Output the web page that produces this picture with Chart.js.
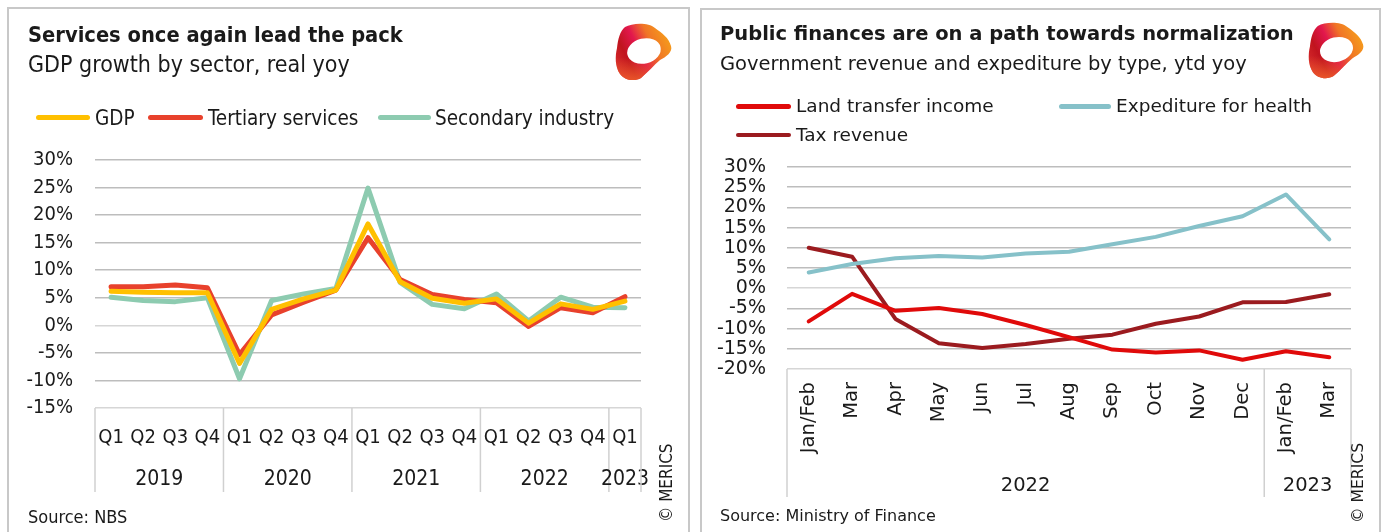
<!DOCTYPE html>
<html>
<head>
<meta charset="utf-8">
<script src="https://cdn.jsdelivr.net/npm/chart.js@4.4.0/dist/chart.umd.min.js"></script>
<style>
  html, body { margin: 0; padding: 0; background: #fff; }
  body { width: 1384px; height: 532px; position: relative; overflow: hidden; color: #1a1a1a; }
  .panel { position: absolute; border: 2px solid #c8c8c8; box-sizing: border-box; }
  .t { position: absolute; white-space: nowrap; line-height: 1; }
  .sw { position: absolute; border-radius: 3px; }
  canvas { position: absolute; top: 0; }
  .logo { position: absolute; }
</style>
</head>
<body>
<div class="panel" style="left:7px;top:7px;width:683px;height:540px"></div>
<div class="panel" style="left:700px;top:8px;width:681px;height:540px"></div>
<canvas id="left" width="692" height="532" style="left:0;width:692px;height:532px"></canvas>
<canvas id="right" width="692" height="532" style="left:692px;width:692px;height:532px"></canvas>
<div id="deco"></div>
<script>
// ---- data: left panel (GDP growth by sector, real yoy, %)
const quarters = ['Q1','Q2','Q3','Q4','Q1','Q2','Q3','Q4','Q1','Q2','Q3','Q4','Q1','Q2','Q3','Q4','Q1'];
const quarterYears = ['2019','2020','2021','2022','2023'];
const quarterYearSpans = [4,4,4,4,1];
const gdp       = [6.2, 6.0, 5.9, 5.9, -6.9, 2.9, 4.8, 6.4, 18.4, 7.9, 4.9, 4.0, 4.8, 0.4, 3.9, 2.9, 4.4];
const tertiary  = [7.0, 7.0, 7.3, 6.8, -5.3, 1.9, 4.2, 6.4, 15.9, 8.3, 5.6, 4.7, 4.1, -0.2, 3.2, 2.3, 5.2];
const secondary = [5.1, 4.5, 4.3, 5.0, -9.7, 4.5, 5.7, 6.7, 24.9, 7.8, 3.8, 3.0, 5.7, 0.8, 5.1, 3.3, 3.2];

// ---- data: right panel (government revenue and expenditure, ytd yoy, %)
const months = ['Jan/Feb','Mar','Apr','May','Jun','Jul','Aug','Sep','Oct','Nov','Dec','Jan/Feb','Mar'];
const monthYears = ['2022','2023'];
const monthYearSpans = [11,2];
const landTransfer = [-8.2, -1.4, -5.6, -4.9, -6.4, -9.1, -12.1, -15.2, -15.9, -15.4, -17.7, -15.6, -17.1];
const health       = [3.9, 6.0, 7.4, 8.0, 7.6, 8.6, 9.0, 10.9, 12.7, 15.4, 17.8, 23.2, 12.1];
const taxRevenue   = [10.0, 7.8, -7.6, -13.6, -14.8, -13.8, -12.5, -11.5, -8.8, -7.0, -3.5, -3.4, -1.5];

const COND = '"DejaVu Sans Condensed", "DejaVu Sans", sans-serif';
const REG = '"DejaVu Sans", sans-serif';
const INK = '#1a1a1a';

// second row of the category axis: year groups with separators
const groupAxis = {
  id: 'groupAxis',
  afterDraw(chart, args, o) {
    const { ctx, chartArea } = chart;
    const x = chart.scales.x;
    ctx.save();
    ctx.strokeStyle = '#d0d0d0';
    ctx.lineWidth = 1.5;
    ctx.font = o.font;
    ctx.fillStyle = INK;
    ctx.textAlign = 'center';
    ctx.textBaseline = 'middle';
    let start = 0;
    const edge = i => x.getPixelForValue(i - 0.5);
    const line = px => {
      ctx.beginPath();
      ctx.moveTo(px, chartArea.bottom);
      ctx.lineTo(px, o.lineEnd);
      ctx.stroke();
    };
    line(edge(0));
    o.groups.forEach((g, k) => {
      const span = o.spans[k];
      const cx = x.getPixelForValue(start + span / 2 - 0.5);
      ctx.fillText(g, cx, o.labelY);
      start += span;
      line(edge(start));
    });
    ctx.restore();
  }
};

function gridColor(min) {
  return c => (c.tick && (c.tick.value === 0 || c.tick.value === min)) ? '#d6d6d6' : '#bdbdbd';
}

const common = {
  responsive: false,
  animation: false,
  elements: {
    line: { tension: 0, borderCapStyle: 'round', borderJoinStyle: 'round', fill: false },
    point: { radius: 0, hoverRadius: 0 }
  }
};

new Chart(document.getElementById('left'), {
  type: 'line',
  data: {
    labels: quarters,
    datasets: [
      { label: 'GDP', data: gdp, borderColor: '#FFC000', borderWidth: 5 },
      { label: 'Tertiary services', data: tertiary, borderColor: '#E8412C', borderWidth: 5 },
      { label: 'Secondary industry', data: secondary, borderColor: '#8DCBB0', borderWidth: 5 }
    ]
  },
  options: Object.assign({}, common, {
    layout: { padding: { left: 5, right: 51, top: 160, bottom: 0 } },
    plugins: {
      legend: { display: false },
      tooltip: { enabled: false },
      groupAxis: { groups: quarterYears, spans: quarterYearSpans, font: '21px ' + COND, labelY: 480, lineEnd: 492 }
    },
    scales: {
      x: {
        offset: true,
        grid: { display: false, drawTicks: false },
        border: { display: false },
        ticks: { font: { family: COND, size: 20, lineHeight: 1.2 }, color: INK, padding: 18, maxRotation: 0, autoSkip: false },
        afterFit(s) { s.height = 124; }
      },
      y: {
        min: -15, max: 30,
        grid: { color: gridColor(-15), lineWidth: 1.5, drawTicks: false },
        border: { display: false },
        ticks: { stepSize: 5, autoSkip: false, padding: 22, color: INK,
                 font: { family: COND, size: 20, lineHeight: 1 }, callback: v => v + '%' },
        afterFit(s) { s.width = 90; }
      }
    }
  }),
  plugins: [groupAxis]
});

new Chart(document.getElementById('right'), {
  type: 'line',
  data: {
    labels: months,
    datasets: [
      { label: 'Land transfer income', data: landTransfer, borderColor: '#E00A0A', borderWidth: 4 },
      { label: 'Expediture for health', data: health, borderColor: '#86C1C9', borderWidth: 4 },
      { label: 'Tax revenue', data: taxRevenue, borderColor: '#9B1B1F', borderWidth: 4 }
    ]
  },
  options: Object.assign({}, common, {
    layout: { padding: { left: 5, right: 33, top: 167, bottom: 0 } },
    plugins: {
      legend: { display: false },
      tooltip: { enabled: false },
      groupAxis: { groups: monthYears, spans: monthYearSpans, font: '19.5px ' + REG, labelY: 486, lineEnd: 497 }
    },
    scales: {
      x: {
        offset: true,
        grid: { display: false, drawTicks: false },
        border: { display: false },
        ticks: { font: { family: REG, size: 19.5, lineHeight: 1.2 }, color: INK, padding: 13,
                 minRotation: 90, maxRotation: 90, autoSkip: false },
        afterFit(s) { s.height = 163; }
      },
      y: {
        min: -20, max: 30,
        grid: { color: gridColor(-20), lineWidth: 1.5, drawTicks: false },
        border: { display: false },
        ticks: { stepSize: 5, autoSkip: false, padding: 21, color: INK,
                 font: { family: REG, size: 19, lineHeight: 1 }, callback: v => v + '%' },
        afterFit(s) { s.width = 90; }
      }
    }
  }),
  plugins: [groupAxis]
});

// ---- titles, legends, notes (HTML text placed by baseline)
const deco = document.getElementById('deco');
function text(str, x, base, size, fam, bold) {
  const d = document.createElement('div');
  d.className = 't';
  d.textContent = str;
  d.style.left = x + 'px';
  d.style.top = (base - 0.846 * size) + 'px';
  d.style.fontSize = size + 'px';
  d.style.fontFamily = fam;
  if (bold) d.style.fontWeight = 'bold';
  deco.appendChild(d);
}
function swatch(x1, x2, y, h, color) {
  const d = document.createElement('div');
  d.className = 'sw';
  d.style.left = x1 + 'px';
  d.style.width = (x2 - x1) + 'px';
  d.style.top = (y - h / 2) + 'px';
  d.style.height = h + 'px';
  d.style.background = color;
  deco.appendChild(d);
}
function vertical(str, cx, bottom, size, fam) {
  const d = document.createElement('div');
  d.className = 't';
  d.textContent = str;
  d.style.fontSize = size + 'px';
  d.style.fontFamily = fam;
  d.style.left = (cx - size / 2) + 'px';
  d.style.top = bottom + 'px';
  d.style.transformOrigin = '0 0';
  d.style.transform = 'rotate(-90deg)';
  deco.appendChild(d);
}
// MERICS ring logo: gradient ring with a white hole
function logo(x, y, w, h, id) {
  const d = document.createElement('div');
  d.className = 'logo';
  d.style.left = x + 'px';
  d.style.top = y + 'px';
  const outer = 'M11 5 C18 1 34 0 41 6 C48 11 55 16 57 24 C59 30 52 35 46 38 ' +
    'C40 43 34 50 27 56 C20 60 10 58 6 52 C1 45 1 34 3 26 C4 17 6 9 11 5 Z';
  d.innerHTML =
    '<svg width="' + w + '" height="' + h + '" viewBox="0 0 60 62">' +
    '<defs><linearGradient id="' + id + '" x1="0" y1="0.75" x2="1" y2="0.25">' +
    '<stop offset="0" stop-color="#d62a2b"/><stop offset="0.22" stop-color="#c0141e"/>' +
    '<stop offset="0.45" stop-color="#e2174d"/><stop offset="0.68" stop-color="#f07526"/>' +
    '<stop offset="1" stop-color="#f6a11a"/></linearGradient>' +
    '<linearGradient id="' + id + 'b" x1="0" y1="0" x2="0" y2="1">' +
    '<stop offset="0.6" stop-color="#ec5a2a" stop-opacity="0"/><stop offset="1" stop-color="#ec5a2a" stop-opacity="0.9"/></linearGradient></defs>' +
    '<path fill="url(#' + id + ')" d="' + outer + '"/>' +
    '<path fill="url(#' + id + 'b)" d="' + outer + '"/>' +
    '<ellipse cx="30" cy="29" rx="17" ry="12.5" transform="rotate(-14 30 29)" fill="#fff"/></svg>';
  deco.appendChild(d);
}

// left panel
text('Services once again lead the pack', 28, 42, 21.7, COND, true);
text('GDP growth by sector, real yoy', 28, 72, 23, COND);
swatch(36, 90, 117.3, 5, '#FFC000');   text('GDP', 95, 125, 20.5, COND);
swatch(148, 203, 117.3, 5, '#E8412C'); text('Tertiary services', 208, 125, 20.5, COND);
swatch(378, 431, 117.3, 5, '#8DCBB0'); text('Secondary industry', 435, 125, 20.5, COND);
text('Source: NBS', 28, 523, 18, COND);
vertical('\u00A9 MERICS', 666, 522, 17, COND);
logo(614, 22, 60, 62, 'lg1');

// right panel
text('Public finances are on a path towards normalization', 720, 40, 19.5, REG, true);
text('Government revenue and expediture by type, ytd yoy', 720, 70, 19.5, REG);
swatch(736, 791, 106.7, 4.5, '#E00A0A');   text('Land transfer income', 796, 113, 18.5, REG);
swatch(1059, 1111, 106.7, 4.5, '#86C1C9'); text('Expediture for health', 1116, 113, 18.5, REG);
swatch(736, 791, 135, 4.5, '#9B1B1F');     text('Tax revenue', 796, 142, 18.5, REG);
text('Source: Ministry of Finance', 720, 522, 16, REG);
vertical('\u00A9 MERICS', 1359, 523, 15.6, REG);
logo(1307, 20, 59, 63, 'lg2');
</script>
</body>
</html>
